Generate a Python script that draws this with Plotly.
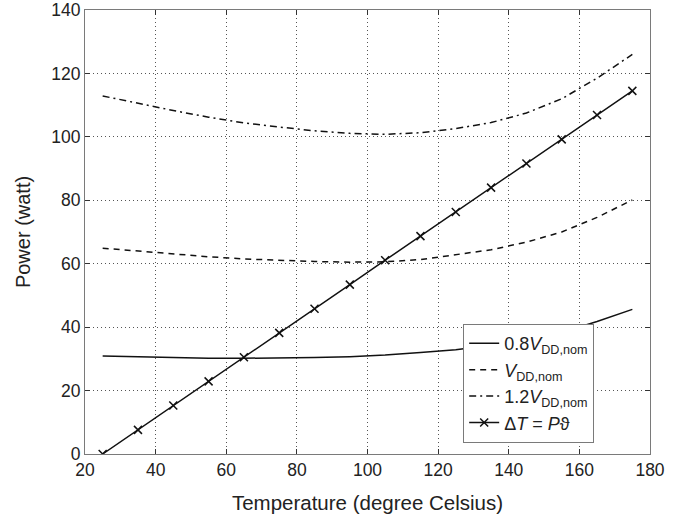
import plotly.graph_objects as go

temps = [25, 35, 45, 55, 65, 75, 85, 95, 105, 115, 125, 135, 145, 155, 165, 175]
p_08 = [30.9, 30.6, 30.4, 30.2, 30.2, 30.2, 30.4, 30.7, 31.2, 32.0, 32.9, 34.3, 36.0, 38.3, 41.8, 45.6]
p_10 = [64.9, 64.0, 63.0, 62.2, 61.5, 61.0, 60.7, 60.5, 60.6, 61.3, 62.9, 64.4, 66.8, 70.0, 74.6, 80.1]
p_12 = [112.9, 110.5, 108.3, 106.2, 104.4, 103.1, 101.9, 101.1, 100.8, 101.3, 102.6, 104.5, 107.5, 112.0, 118.5, 126.0]
p_dt = [0.0, 7.6, 15.3, 22.9, 30.5, 38.2, 45.8, 53.4, 61.1, 68.7, 76.3, 84.0, 91.6, 99.2, 106.9, 114.5]

names = ["0.8<i>V</i><sub>DD,nom</sub>", "<i>V</i><sub>DD,nom</sub>",
         "1.2<i>V</i><sub>DD,nom</sub>", "Δ<i>T</i> = <i>P</i>ϑ"]

x_ticks = [20, 40, 60, 80, 100, 120, 140, 160, 180]
y_ticks = [0, 20, 40, 60, 80, 100, 120, 140]

fig = go.Figure()
fig.add_trace(go.Scatter(x=temps, y=p_08, mode="lines", name=names[0],
                         line=dict(color="#111", width=1.5)))
fig.add_trace(go.Scatter(x=temps, y=p_10, mode="lines", name=names[1],
                         line=dict(color="#111", width=1.5, dash="6px,5px")))
fig.add_trace(go.Scatter(x=temps, y=p_12, mode="lines", name=names[2],
                         line=dict(color="#111", width=1.5, dash="7px,4px,2px,4px")))
fig.add_trace(go.Scatter(x=temps, y=p_dt, mode="lines+markers", name=names[3],
                         line=dict(color="#111", width=1.5),
                         marker=dict(symbol="x-thin", size=8, color="#111",
                                     line=dict(color="#111", width=1.5))))

axis_common = dict(
    showline=True, linecolor="#7a7a7a", linewidth=1.2, mirror="ticks",
    ticks="inside", ticklen=5, tickcolor="#333", tickwidth=1,
    showgrid=True, gridcolor="#555", griddash="1px,3px", gridwidth=1,
    zeroline=False, tickfont=dict(size=17.5, color="#222"), automargin=False,
    ticklabeloverflow="allow",
)

fig.update_xaxes(range=[20, 180], tickvals=x_ticks, **axis_common,
                 title=dict(text="Temperature (degree Celsius)",
                            font=dict(size=20.5, color="#222"), standoff=16))
fig.update_yaxes(range=[0, 140], tickvals=y_ticks, **axis_common,
                 title=dict(text="Power (watt)",
                            font=dict(size=20, color="#222"), standoff=15))

fig.update_layout(
    width=688, height=518,
    margin=dict(l=85, r=38, t=10, b=64),
    plot_bgcolor="white", paper_bgcolor="white",
    font=dict(family="Liberation Sans, Arial, sans-serif", color="#222"),
    legend=dict(x=0.669, y=0.293, xanchor="left", yanchor="top",
                bgcolor="white", bordercolor="#7a7a7a", borderwidth=1.2,
                font=dict(size=18, color="#222"), tracegroupgap=0,
                itemwidth=30),
    showlegend=True,
)

# remove the default 8px page margin so the figure fills the window exactly
fig.write_html("out.html", config={"displayModeBar": False},
               post_script="document.body.style.margin='0';")
